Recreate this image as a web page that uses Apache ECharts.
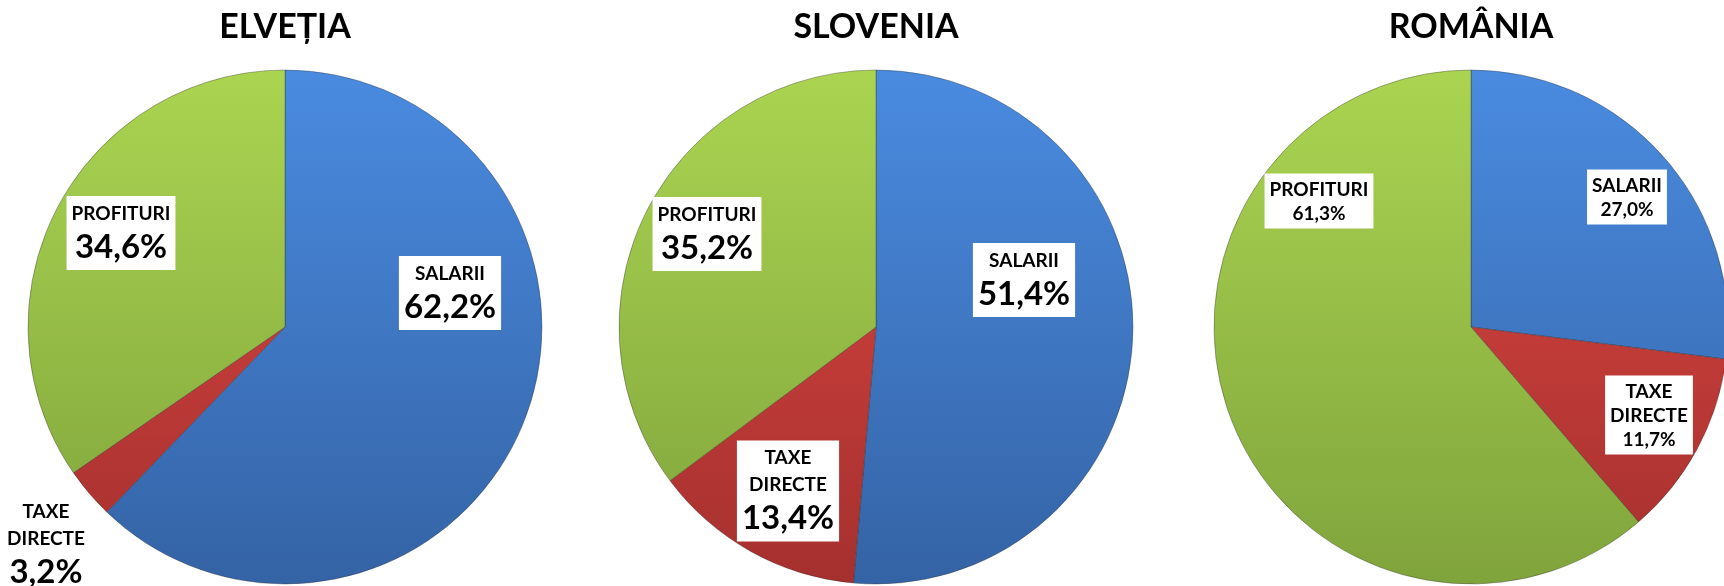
<!DOCTYPE html>
<html>
<head>
<meta charset="utf-8">
<script src="https://cdn.jsdelivr.net/npm/echarts@6/dist/echarts.min.js"></script>
<style>
  html, body { margin: 0; padding: 0; background: #fff; }
  #main { width: 1724px; height: 586px; }
</style>
</head>
<body>
<div id="main"></div>
<script>
// data
const categories = ['SALARII', 'TAXE DIRECTE', 'PROFITURI']
const countries = ['ELVEȚIA', 'SLOVENIA', 'ROMÂNIA']
const elvetiaValues = [62.2, 3.2, 34.6]
const sloveniaValues = [51.4, 13.4, 35.2]
const romaniaValues = [27.0, 11.7, 61.3]

// layout
const radius = 257
const centers = [[285, 327], [876, 327], [1471, 327]]
// label box centres, relative to pie centre
const labelOffsets = [
  [[165, -34], [-239, 218], [-164, -94]],
  [[148, -47], [-88, 164], [-169, -93]],
  [[156, -130], [178, 88], [-152, -126]]
]
const valueSizes = [33, 33, 19]
const sliceColors = [
  ['#4a8be0', '#3463a5'],
  ['#df4843', '#a5302e'],
  ['#abd451', '#80a43c']
]

const fmt = v => v.toFixed(1).replace('.', ',') + '%'

function gradient (c, i) {
  return new echarts.graphic.LinearGradient(c[0], c[1] - radius, c[0], c[1] + radius, [
    { offset: 0, color: sliceColors[i][0] },
    { offset: 1, color: sliceColors[i][1] }
  ], true)
}

function makeSeries (values, k) {
  const c = centers[k]
  const vs = valueSizes[k]
  const big = vs > 20
  return {
    type: 'pie',
    center: c,
    radius: radius,
    startAngle: 90,
    clockwise: true,
    silent: true,
    animation: false,
    data: values.map((v, i) => ({
      name: categories[i],
      value: v,
      itemStyle: { color: gradient(c, i) }
    })),
    itemStyle: {
      borderColor: 'rgba(40,40,40,0.35)',
      borderWidth: 1
    },
    labelLine: { show: false },
    label: {
      show: true,
      position: 'inside',
      backgroundColor: '#ffffff',
      padding: [4, 5, 3, 5],
      formatter: p => p.name.split(' ').map(w => '{n|' + w + '}').join('\n') + '\n{v|' + fmt(p.value) + '}',
      rich: {
        n: { fontFamily: 'Lato', fontWeight: 'bold', fontSize: 19, lineHeight: big ? 27 : 24, color: '#000', align: 'center' },
        v: { fontFamily: 'Lato', fontWeight: 'bold', fontSize: vs, lineHeight: big ? 40 : 24, color: '#000', align: 'center' }
      }
    },
    labelLayout: p => {
      const o = labelOffsets[k][p.dataIndex]
      return { x: c[0] + o[0], y: c[1] + o[1], align: 'center', verticalAlign: 'middle' }
    }
  }
}

const chart = echarts.init(document.getElementById('main'))
chart.setOption({
  backgroundColor: '#ffffff',
  title: countries.map((t, k) => ({
    text: t,
    left: centers[k][0],
    textAlign: 'center',
    top: 10,
    padding: 0,
    textStyle: { fontFamily: 'Lato', fontWeight: 'bold', fontSize: 34, color: '#000' }
  })),
  series: [
    makeSeries(elvetiaValues, 0),
    makeSeries(sloveniaValues, 1),
    makeSeries(romaniaValues, 2)
  ]
})
</script>
</body>
</html>
